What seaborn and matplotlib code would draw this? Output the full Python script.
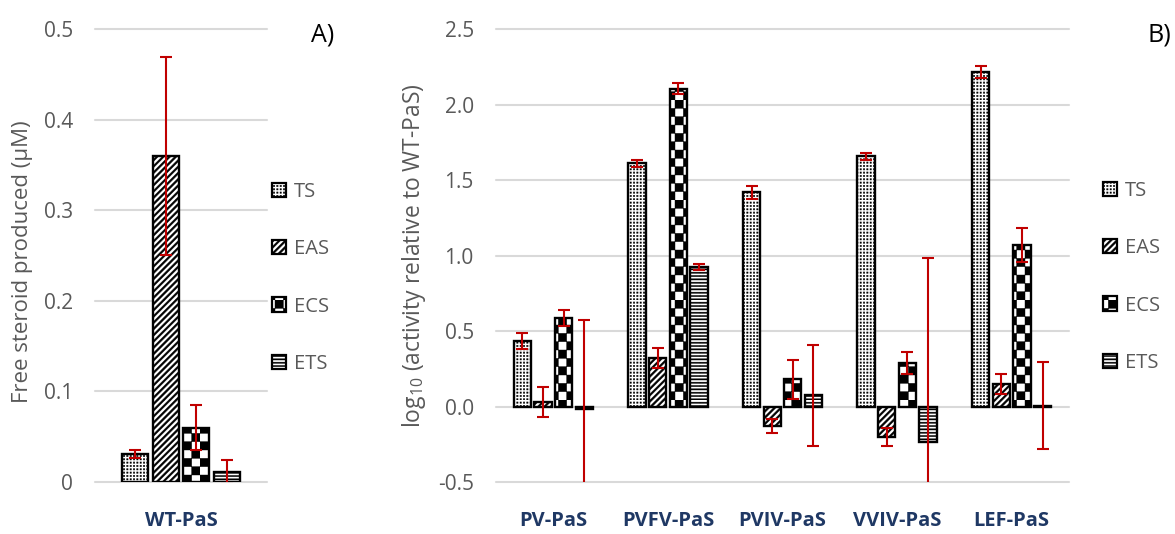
import warnings
warnings.filterwarnings("ignore")
import numpy as np
import pandas as pd
import matplotlib
matplotlib.use("Agg")
import matplotlib.pyplot as plt
import matplotlib.hatch as mhatch
from matplotlib.path import Path
from matplotlib.patches import Patch
import seaborn as sns

# ---------------- data ----------------
substrates = ["TS", "EAS", "ECS", "ETS"]

# Panel A: free steroid produced by WT-PaS (uM)
wt_label = ["WT-PaS"]
wt_values = [0.031, 0.360, 0.060, 0.011]
wt_errors = [0.004, 0.109, 0.0245, 0.013]

# Panel B: log10 activity relative to WT-PaS
variants = ["PV-PaS", "PVFV-PaS", "PVIV-PaS", "VVIV-PaS", "LEF-PaS"]
ts_vals = [0.437, 1.612, 1.420, 1.658, 2.217]
eas_vals = [0.033, 0.322, -0.126, -0.199, 0.152]
ecs_vals = [0.590, 2.106, 0.181, 0.291, 1.069]
ets_vals = [-0.015, 0.927, 0.077, -0.236, 0.006]
ts_err = [0.055, 0.022, 0.043, 0.024, 0.038]
eas_err = [0.100, 0.067, 0.045, 0.060, 0.066]
ecs_err = [0.053, 0.036, 0.130, 0.072, 0.112]
ets_err = [0.590, 0.018, 0.335, 1.220, 0.288]

yticks_a = [0, 0.1, 0.2, 0.3, 0.4, 0.5]
yticklabels_a = ["0", "0.1", "0.2", "0.3", "0.4", "0.5"]
yticks_b = [-0.5, 0.0, 0.5, 1.0, 1.5, 2.0, 2.5]
yticklabels_b = ["-0.5", "0.0", "0.5", "1.0", "1.5", "2.0", "2.5"]


# ---------------- custom filled hatch patterns ----------------
def _rect(x0, y0, x1, y1):
    return [(x0, y0), (x1, y0), (x1, y1), (x0, y1), (x0, y0)]


class ShapeHatch(mhatch.HatchPatternBase):
    """c = checkerboard, d = dot grid, s = diagonal stripes, h = horizontal lines"""

    def __init__(self, hatch, density):
        polys = []
        if "c" in hatch:
            n = 12
            s = 1.0 / n
            for i in range(n):
                for j in range(n):
                    if (i + j) % 2 == 0:
                        polys.append(_rect(i * s, j * s, (i + 1) * s, (j + 1) * s))
        if "d" in hatch:
            n = 30
            s = 1.0 / n
            w = 0.014
            for i in range(n):
                for j in range(n):
                    x0, y0 = i * s, j * s
                    polys.append(_rect(x0, y0, x0 + w, y0 + w))
        if "s" in hatch:
            n = 16
            w = 0.4 / n
            for i in range(-n, n + 1):
                x = i / n
                polys.append([(x, 0), (x + w, 0), (x + w + 1, 1), (x + 1, 1), (x, 0)])
        if "h" in hatch:
            n = 30
            w = 0.012
            for j in range(n):
                y = j / n
                polys.append(_rect(0, y, 1, y + w))
        self.polys = polys
        self.num_vertices = 5 * len(polys)

    def set_vertices_and_codes(self, vertices, codes):
        idx = 0
        for p in self.polys:
            vertices[idx:idx + 5] = p
            codes[idx:idx + 5] = [Path.MOVETO, Path.LINETO, Path.LINETO,
                                  Path.LINETO, Path.CLOSEPOLY]
            idx += 5


mhatch._hatch_types.append(ShapeHatch)

hatches = {"TS": "d", "EAS": "s", "ECS": "c", "ETS": "h"}

# ---------------- style ----------------
sns.set_theme(style="white")
plt.rcParams["font.family"] = ["Open Sans", "DejaVu Sans"]
plt.rcParams["mathtext.fontset"] = "custom"
plt.rcParams["mathtext.rm"] = "Open Sans"
plt.rcParams["mathtext.it"] = "Open Sans"
plt.rcParams["mathtext.default"] = "regular"
plt.rcParams["hatch.linewidth"] = 0.3
plt.rcParams["hatch.color"] = "black"

GRAY = "#595959"
GRID = "#D9D9D9"
NAVY = "#1F3864"
RED = "#C00000"

W, H = 1175, 534
fig = plt.figure(figsize=(W / 100, H / 100), dpi=100)
fig.patch.set_facecolor("white")


def fx(px):
    return px / W


def fy(py):
    return 1 - py / H


ax_a = fig.add_axes([fx(95), fy(482), fx(267) - fx(95), fy(29) - fy(482)])
ax_b = fig.add_axes([fx(496), fy(482.3), fx(1069) - fx(496), fy(29.3) - fy(482.3)])

df_a = pd.DataFrame({"cat": wt_label * 4, "sub": substrates, "val": wt_values})
rows = []
for s, vals in zip(substrates, [ts_vals, eas_vals, ecs_vals, ets_vals]):
    for v, val in zip(variants, vals):
        rows.append({"cat": v, "sub": s, "val": val})
df_b = pd.DataFrame(rows)

err_a = {s: [e] for s, e in zip(substrates, wt_errors)}
err_b = dict(zip(substrates, [ts_err, eas_err, ecs_err, ets_err]))


def draw(ax, df, order, errs, ylim, yticks, yticklabels):
    sns.barplot(data=df, x="cat", y="val", hue="sub", order=order,
                hue_order=substrates, palette=["white"] * 4, saturation=1,
                edgecolor="black", linewidth=1.7, width=0.72, gap=0.16,
                errorbar=None, legend=False, ax=ax)
    for cont, s in zip(ax.containers, substrates):
        xs, ys = [], []
        for p in cont.patches:
            p.set_hatch(hatches[s])
            xs.append(p.get_x() + p.get_width() / 2)
            ys.append(p.get_y() + p.get_height())
        ax.errorbar(xs, ys, yerr=errs[s], fmt="none", ecolor=RED,
                    elinewidth=1.5, capsize=4.5, capthick=1.5, zorder=5)
    ax.set_ylim(*ylim)
    ax.set_xlim(-0.5, len(order) - 0.5)
    ax.set_yticks(yticks)
    ax.set_yticklabels(yticklabels)
    ax.yaxis.grid(True, color=GRID, linewidth=1.5)
    ax.xaxis.grid(False)
    ax.set_axisbelow(True)
    for sp in ax.spines.values():
        sp.set_visible(False)
    ax.tick_params(axis="y", length=0, pad=16, labelsize=15, labelcolor=GRAY)
    ax.tick_params(axis="x", length=0, pad=21, labelsize=14.5, labelcolor=NAVY)
    for t in ax.get_xticklabels():
        t.set_fontweight("bold")
    ax.set_xlabel("")
    ax.set_ylabel("")
    for gl in ax.get_ygridlines():
        gl.set_clip_on(False)


draw(ax_a, df_a, wt_label, err_a, (0, 0.5), yticks_a, yticklabels_a)
draw(ax_b, df_b, variants, err_b, (-0.5, 2.5), yticks_b, yticklabels_b)

# axis titles
fig.text(fx(23), fy(262), "Free steroid produced (\u03bcM)", rotation=90,
         ha="center", va="center", fontsize=16, color=GRAY)
fig.text(fx(414), fy(256), r"log$_{10}$ (activity relative to WT-PaS)",
         rotation=90, ha="center", va="center", fontsize=16.5, color=GRAY)

# panel letters
fig.text(fx(311), fy(35), "A)", ha="left", va="center", fontsize=18, color="black")
fig.text(fx(1147), fy(35), "B)", ha="left", va="center", fontsize=18, color="black")

# legends
handles = [Patch(facecolor="white", edgecolor="black", linewidth=1.6,
                 hatch=hatches[s], label=s) for s in substrates]
for ax, x0, y0 in [(ax_a, 272, 182), (ax_b, 1103, 181)]:
    leg = ax.legend(handles=handles, loc="upper left",
                    bbox_to_anchor=(fx(x0), fy(y0)), bbox_transform=fig.transFigure,
                    frameon=False, fontsize=14.5, labelcolor=GRAY,
                    handlelength=0.7, handleheight=0.7, handletextpad=0.4,
                    labelspacing=1.85, borderpad=0, borderaxespad=0)

fig.savefig("out.png", dpi=100, facecolor="white")
